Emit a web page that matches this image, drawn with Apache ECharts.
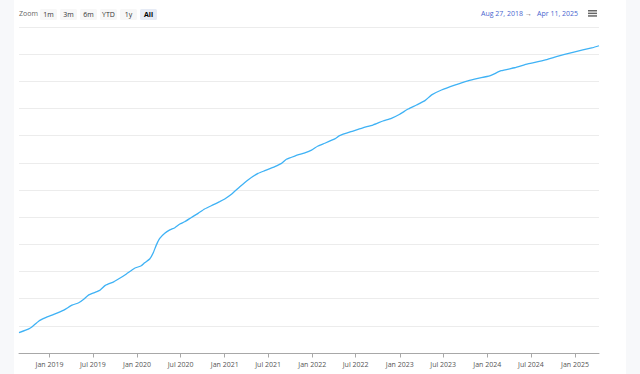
<!DOCTYPE html>
<html>
<head>
<meta charset="utf-8">
<script src="https://cdn.jsdelivr.net/npm/echarts@6/dist/echarts.min.js"></script>
<style>
  html, body { margin: 0; padding: 0; width: 640px; height: 374px; overflow: hidden; background: #f7f8fa; }
  #card { position: absolute; left: 14px; top: 0; width: 612px; height: 374px; background: #ffffff; }
  #chart { position: absolute; left: 0; top: 0; width: 640px; height: 374px; }
</style>
</head>
<body>
<div id="card"></div>
<div id="chart"></div>
<script>
// ---- data (y in gridline units; axis has no labels) ----
const dates = [
  '2018-08-27','2018-10-07','2018-10-21','2018-11-18','2018-12-16','2019-01-19','2019-03-02','2019-04-05',
  '2019-05-03','2019-05-24','2019-06-14','2019-07-18','2019-08-01','2019-08-22','2019-09-26','2019-10-21',
  '2019-11-18','2019-12-22','2020-01-19','2020-02-02','2020-02-23','2020-03-08','2020-03-22','2020-04-05',
  '2020-04-26','2020-05-17','2020-06-07','2020-06-28','2020-07-18','2020-08-15','2020-09-12','2020-10-09',
  '2020-11-13','2020-12-11','2021-01-01','2021-01-29','2021-03-05','2021-04-08','2021-05-20','2021-06-17',
  '2021-07-29','2021-08-26','2021-09-15','2021-10-20','2021-12-01','2021-12-29','2022-01-25','2022-02-22',
  '2022-04-05','2022-04-25','2022-06-20','2022-07-31','2022-09-11','2022-10-23','2022-11-27','2023-01-01',
  '2023-02-05','2023-03-12','2023-04-16','2023-05-14','2023-06-24','2023-08-18','2023-10-12','2023-11-23',
  '2024-01-11','2024-02-28','2024-04-24','2024-06-18','2024-08-27','2024-10-15','2024-12-23','2025-03-16',
  '2025-04-11'
];
const values = [
  0.75, 0.89, 0.97, 1.18, 1.30, 1.42, 1.58, 1.76,
  1.85, 1.98, 2.14, 2.26, 2.32, 2.49, 2.62, 2.75,
  2.91, 3.12, 3.21, 3.32, 3.46, 3.67, 3.98, 4.22,
  4.41, 4.53, 4.61, 4.75, 4.83, 4.99, 5.14, 5.30,
  5.45, 5.57, 5.67, 5.84, 6.12, 6.37, 6.61, 6.71,
  6.86, 6.98, 7.13, 7.25, 7.37, 7.47, 7.62, 7.72,
  7.88, 8.00, 8.17, 8.29, 8.39, 8.54, 8.64, 8.79,
  8.98, 9.13, 9.29, 9.50, 9.68, 9.86, 10.02, 10.11,
  10.20, 10.39, 10.50, 10.64, 10.78, 10.91, 11.07, 11.24,
  11.31
];
const tickDates = [
  '2019-01-01','2019-07-01','2020-01-01','2020-07-01','2021-01-01','2021-07-01','2022-01-01',
  '2022-07-01','2023-01-01','2023-07-01','2024-01-01','2024-07-01','2025-01-01'
];
const rangeButtons = ['1m', '3m', '6m', 'YTD', '1y', 'All'];
const rangeFrom = 'Aug 27, 2018';
const rangeTo = 'Apr 11, 2025';
const monthNames = ['Jan','Feb','Mar','Apr','May','Jun','Jul','Aug','Sep','Oct','Nov','Dec'];

const FONT = '"Open Sans", "Noto Sans", sans-serif';
const chart = echarts.init(document.getElementById('chart'), null, { renderer: 'svg' });

const toTs = s => { const p = s.split('-').map(Number); return Date.UTC(p[0], p[1] - 1, p[2]); };
const seriesData = dates.map((d, i) => [toTs(d), values[i]]);
const tickValues = tickDates.map(toTs);

const graphics = [];
graphics.push({ type: 'text', left: 19, top: 10, style: { text: 'Zoom', fill: '#666666', font: '7px ' + FONT } });
rangeButtons.forEach((b, i) => {
  const sel = b === 'All';
  graphics.push({
    type: 'group', left: 40 + i * 20, top: 9,
    children: [
      { type: 'rect', shape: { x: 0, y: 0, width: 17, height: 11, r: 1.5 }, style: { fill: sel ? '#e6ebf5' : '#f7f7f7' } },
      { type: 'text', x: 8.5, y: 5.7, style: { text: b, fill: sel ? '#000000' : '#333333', font: (sel ? 'bold ' : '') + '7px ' + FONT, align: 'center', verticalAlign: 'middle' } }
    ]
  });
});
graphics.push({ type: 'text', left: 481, top: 10, style: { text: rangeFrom, fill: '#4a66cf', font: '7px ' + FONT } });
graphics.push({ type: 'text', left: 525, top: 10, style: { text: '→', fill: '#666666', font: '7px ' + FONT } });
graphics.push({ type: 'text', left: 537, top: 10, style: { text: rangeTo, fill: '#4a66cf', font: '7px ' + FONT } });
graphics.push({
  type: 'group', left: 588, top: 10,
  children: [0, 2.6, 5.2].map(y => ({ type: 'rect', shape: { x: 0, y: y, width: 9, height: 1.5 }, style: { fill: '#666666' } }))
});

chart.setOption({
  backgroundColor: 'transparent',
  animation: false,
  grid: { left: 19, right: 41, top: 27, bottom: 21, containLabel: false },
  xAxis: {
    type: 'value',
    min: toTs('2018-08-27'),
    max: toTs('2025-04-11'),
    splitLine: { show: false },
    axisLine: { show: true, lineStyle: { color: '#a8a8a8', width: 1 } },
    axisTick: { show: true, length: 4.5, lineStyle: { color: '#a8a8a8' }, customValues: tickValues },
    axisLabel: {
      show: true, color: '#555555', fontSize: 7, fontFamily: FONT, margin: 7.5,
      customValues: tickValues,
      formatter: v => { const d = new Date(v); return monthNames[d.getUTCMonth()] + ' ' + d.getUTCFullYear(); }
    }
  },
  yAxis: {
    type: 'value', min: 0, max: 12, interval: 1,
    axisLabel: { show: false }, axisLine: { show: false }, axisTick: { show: false },
    splitLine: { show: true, lineStyle: { color: '#ececec', width: 1 } }
  },
  series: [{
    type: 'line',
    data: seriesData,
    showSymbol: false,
    smooth: 0.15,
    lineStyle: { color: '#3fb2f5', width: 1.3 },
    itemStyle: { color: '#3fb2f5' }
  }],
  graphic: graphics
});
</script>
</body>
</html>
